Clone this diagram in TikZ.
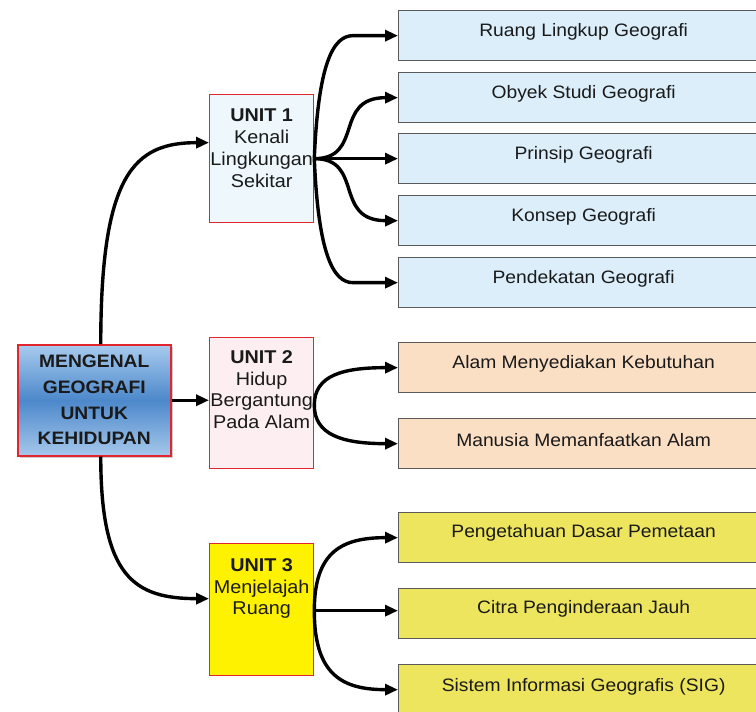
\documentclass[tikz,border=0pt]{standalone}
\usepackage{fontspec}
\setmainfont{Liberation Sans}
\newfontfamily\rfont[FakeStretch=1.07]{Liberation Sans}
\usetikzlibrary{arrows.meta,calc}
\definecolor{redb}{HTML}{E3262D}
\definecolor{grayb}{HTML}{5A5A5A}
\definecolor{u1fill}{HTML}{EEF7FC}
\definecolor{u2fill}{HTML}{FDEFF1}
\definecolor{u3fill}{HTML}{FFF200}
\definecolor{bluefill}{HTML}{DBEEFA}
\definecolor{orfill}{HTML}{FBDFC5}
\definecolor{yefill}{HTML}{EDE55E}
\definecolor{mtop}{HTML}{A8CBEE}
\definecolor{mmid}{HTML}{4C88CB}
\definecolor{mbot}{HTML}{A6C8EB}
\definecolor{txt}{HTML}{1A1A1A}
\tikzset{
  unitbox/.style={draw=redb, line width=1.3pt, minimum width=104pt, anchor=north west, inner sep=0pt},
  rbox/.style={draw=grayb, line width=1.3pt, minimum width=370pt, minimum height=50pt, anchor=north west, inner sep=0pt},
  rtext/.style={anchor=center, font=\rfont\fontsize{18}{22}\selectfont, text=txt, inner sep=0pt},
  utext/.style={anchor=north, align=center, font=\rfont\fontsize{18.5}{21.9}\selectfont, text=txt, inner sep=0pt},
  arr/.style={line width=3.4pt, draw=black, -{Triangle[length=13pt,width=11pt]}},
}
\begin{document}
\begin{tikzpicture}[x=1pt,y=-1pt]
\clip (0,0) rectangle (756,712);
\fill[white] (0,0) rectangle (756,712);
% main box
\fill[gray!40] (20,347) rectangle (173,458);
\node[anchor=north west, minimum width=153pt, minimum height=111pt, inner sep=0pt,
  top color=mtop, bottom color=mbot, middle color=mmid, draw=redb, line width=1.5pt] (m) at (17,344) {};
\node[align=center, font=\rfont\bfseries\fontsize{18}{25.7}\selectfont, text=txt, inner sep=0pt] (mt) at (m.center) {MENGENAL\\GEOGRAFI\\UNTUK\\KEHIDUPAN};
% unit boxes
\node[unitbox, fill=u1fill, minimum height=128pt] (u1) at (209,94) {};
\node[utext] (u1t) at ([yshift=-15pt]u1.north) {\textbf{UNIT 1}\\Kenali\\Lingkungan\\Sekitar};
\node[unitbox, fill=u2fill, minimum height=131pt] (u2) at (209,337) {};
\node[utext] (u2t) at ([yshift=-13pt]u2.north) {\textbf{UNIT 2}\\Hidup\\Bergantung\\Pada Alam};
\node[unitbox, fill=u3fill, minimum height=132pt] (u3) at (209,543) {};
\node[utext] (u3t) at ([yshift=-15pt]u3.north) {\textbf{UNIT 3}\\Menjelajah\\Ruang};
% right boxes
\node[rbox, fill=bluefill] (b1) at (398,10) {};
\node[rbox, fill=bluefill] (b2) at (398,72) {};
\node[rbox, fill=bluefill] (b3) at (398,133) {};
\node[rbox, fill=bluefill] (b4) at (398,195) {};
\node[rbox, fill=bluefill] (b5) at (398,257) {};
\node[rbox, fill=orfill] (b6) at (398,342) {};
\node[rbox, fill=orfill] (b7) at (398,418) {};
\node[rbox, fill=yefill] (b8) at (398,512) {};
\node[rbox, fill=yefill] (b9) at (398,588) {};
\node[rbox, fill=yefill] (b10) at (398,664) {};
\node[rtext] (t1) at ([yshift=-22pt]b1.north) {Ruang Lingkup Geografi};
\node[rtext] (t2) at ([yshift=-22pt]b2.north) {Obyek Studi Geografi};
\node[rtext] (t3) at ([yshift=-22pt]b3.north) {Prinsip Geografi};
\node[rtext] (t4) at ([yshift=-22pt]b4.north) {Konsep Geografi};
\node[rtext] (t5) at ([yshift=-22pt]b5.north) {Pendekatan Geografi};
\node[rtext] (t6) at ([yshift=-22pt]b6.north) {Alam Menyediakan Kebutuhan};
\node[rtext] (t7) at ([yshift=-22pt]b7.north) {Manusia Memanfaatkan Alam};
\node[rtext] (t8) at ([yshift=-21pt]b8.north) {Pengetahuan Dasar Pemetaan};
\node[rtext] (t9) at ([yshift=-21pt]b9.north) {Citra Penginderaan Jauh};
\node[rtext] (t10) at ([yshift=-23pt]b10.north) {Sistem Informasi Geografis (SIG)};
% coordinates
\coordinate (mN) at ($(m.north)+(6.5,0)$);
\coordinate (mS) at ($(m.south)+(6.5,0)$);
\coordinate (u1in) at ($(u1.west)+(0,-16)$);
\coordinate (u3in) at ($(u3.west)+(0,-11)$);
\coordinate (f1) at (u1.east);
\coordinate (f2) at ($(u2.east)+(0,2)$);
\coordinate (f3) at ($(u3.east)+(0,1)$);
% main connectors
\draw[arr] (mN) .. controls ($(mN)+(0,-170)$) and ($(u1in)+(-75,0)$) .. (u1in);
\draw[arr] (m.east) -- (m.east -| u2.west);
\draw[arr] (mS) .. controls ($(mS)+(0,120)$) and ($(u3in)+(-75,0)$) .. (u3in);
% unit1 fan
\draw[arr] (f1) .. controls ($(f1)+(4,-95)$) and ($(b1.west)+(-65,0)$) .. ($(b1.west)+(-45,0)$) -- (b1.west);
\draw[arr] (f1) .. controls ($(f1)+(50,0)$) and ($(b2.west)+(-65,0)$) .. (b2.west);
\draw[arr] (f1) -- (f1 -| b3.west);
\draw[arr] (f1) .. controls ($(f1)+(50,0)$) and ($(b4.west)+(-65,0)$) .. (b4.west);
\draw[arr] (f1) .. controls ($(f1)+(4,95)$) and ($(b5.west)+(-65,0)$) .. ($(b5.west)+(-45,0)$) -- (b5.west);
% unit2 fan
\draw[arr] (f2) .. controls ($(f2)+(0,-30)$) and ($(b6.west)+(-55,0)$) .. (b6.west);
\draw[arr] (f2) .. controls ($(f2)+(0,30)$) and ($(b7.west)+(-55,0)$) .. (b7.west);
% unit3 fan
\draw[arr] (f3) .. controls ($(f3)+(0,-60)$) and ($(b8.west)+(-55,0)$) .. (b8.west);
\draw[arr] (f3) -- (f3 -| b9.west);
\draw[arr] (f3) .. controls ($(f3)+(0,65)$) and ($(b10.west)+(-55,0)$) .. (b10.west);
\end{tikzpicture}
\end{document}
